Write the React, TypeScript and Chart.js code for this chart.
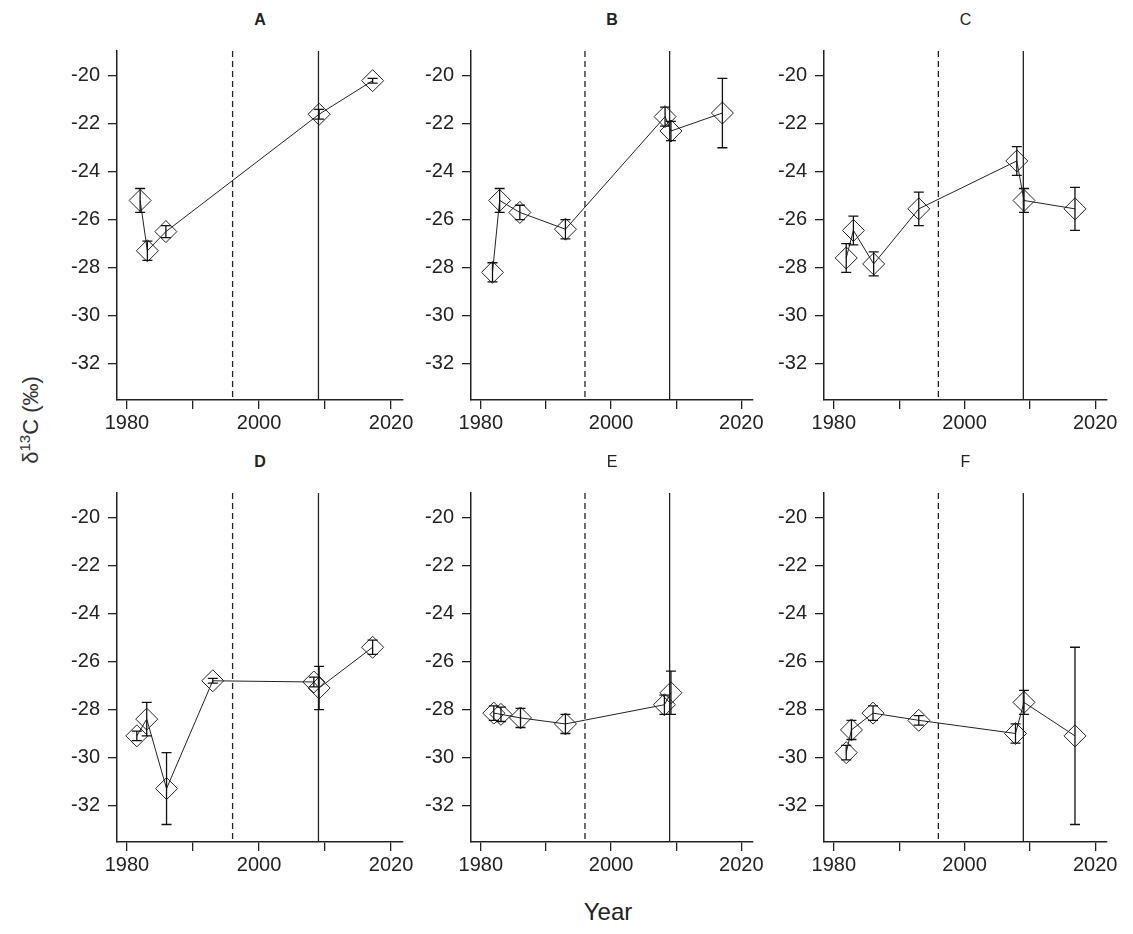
import { useEffect, useRef } from "react"
import { Chart, registerables } from "chart.js"

Chart.register(...registerables)

// panel data: year, mean d13C, error
const yearsA = [1982, 1983.1, 1985.9, 2009.1, 2017.2]
const valuesA = [-25.2, -27.3, -26.5, -21.6, -20.2]
const errorsA = [0.5, 0.4, 0.25, 0.2, 0.1]

const yearsB = [1981.8, 1982.9, 1986, 1993, 2008.3, 2009.2, 2017.1]
const valuesB = [-28.2, -25.2, -25.7, -26.4, -21.7, -22.3, -21.55]
const errorsB = [0.4, 0.5, 0.3, 0.4, 0.4, 0.4, 1.45]

const yearsC = [1981.9, 1983, 1986.1, 1993, 2008, 2009.1, 2016.9]
const valuesC = [-27.6, -26.45, -27.85, -25.55, -23.55, -25.2, -25.55]
const errorsC = [0.6, 0.6, 0.5, 0.7, 0.6, 0.5, 0.9]

const yearsD = [1981.5, 1983, 1986, 1993, 2008.3, 2009.1, 2017.2]
const valuesD = [-29.1, -28.4, -31.3, -26.8, -26.85, -27.1, -25.4]
const errorsD = [0.2, 0.7, 1.5, 0.1, 0.2, 0.9, 0.3]

const yearsE = [1982, 1983.1, 1986.1, 1993, 2008.2, 2009.2]
const valuesE = [-28.15, -28.2, -28.35, -28.6, -27.8, -27.3]
const errorsE = [0.3, 0.3, 0.4, 0.4, 0.4, 0.9]

const yearsF = [1981.9, 1982.7, 1986, 1993, 2007.8, 2009.1, 2016.9]
const valuesF = [-29.8, -28.85, -28.15, -28.45, -29.0, -27.7, -29.1]
const errorsF = [0.3, 0.4, 0.3, 0.2, 0.4, 0.5, 3.7]

const xTicks = [1980, 1990, 2000, 2010, 2020]
const xLabels = [1980, 2000, 2020]
const yTicks = [-20, -22, -24, -26, -28, -30, -32]
const dashedYear = 1996
const solidYear = 2009

const Y_W = 70
const X_H = 50
const PAD = 10
const PAD_R = 25

const vlines = {
  id: "vlines",
  afterDatasetsDraw(chart: any) {
    const { ctx, chartArea, scales } = chart
    ctx.save()
    ctx.strokeStyle = "#222"
    ctx.lineWidth = 1.3
    ;[[dashedYear, [6, 4]], [solidYear, []]].forEach(([yr, dash]: any) => {
      const x = scales.x.getPixelForValue(yr)
      ctx.setLineDash(dash)
      ctx.beginPath()
      ctx.moveTo(x, chartArea.top)
      ctx.lineTo(x, chartArea.bottom)
      ctx.stroke()
    })
    ctx.restore()
  },
}

const errorBars = {
  id: "errorBars",
  afterDatasetsDraw(chart: any) {
    const { ctx, scales } = chart
    const ds = chart.data.datasets[0]
    const errs: number[] = ds.errors
    ctx.save()
    ctx.strokeStyle = "#111"
    ctx.lineWidth = 1.3
    ds.data.forEach((p: any, i: number) => {
      const x = scales.x.getPixelForValue(p.x)
      const y1 = scales.y.getPixelForValue(p.y + errs[i])
      const y2 = scales.y.getPixelForValue(p.y - errs[i])
      ctx.beginPath()
      ctx.moveTo(x, y1)
      ctx.lineTo(x, y2)
      ctx.moveTo(x - 5, y1)
      ctx.lineTo(x + 5, y1)
      ctx.moveTo(x - 5, y2)
      ctx.lineTo(x + 5, y2)
      ctx.stroke()
    })
    ctx.restore()
  },
}

interface PanelProps {
  title: string
  bold: boolean
  years: number[]
  values: number[]
  errors: number[]
  axisX: number
  right: number
  top: number
  bottom: number
}

function Panel({ title, bold, years, values, errors, axisX, right, top, bottom }: PanelProps) {
  const ref = useRef<HTMLCanvasElement | null>(null)
  const width = Y_W + (right - axisX) + PAD_R
  const height = PAD + (bottom - top) + X_H

  useEffect(() => {
    if (!ref.current) return
    const font = { family: "'Liberation Sans', Arial, sans-serif", size: 20 }
    const chart = new Chart(ref.current, {
      type: "line",
      data: {
        datasets: [
          {
            data: years.map((x, i) => ({ x, y: values[i] })),
            errors,
            borderColor: "#222",
            borderWidth: 1,
            pointStyle: "rectRot",
            pointRadius: 11,
            pointBorderWidth: 1,
            pointBorderColor: "#222",
            pointBackgroundColor: "rgba(0,0,0,0)",
          } as any,
        ],
      },
      options: {
        animation: false,
        responsive: false,
        layout: { padding: { top: PAD, right: PAD_R, left: 0, bottom: 0 } },
        plugins: { legend: { display: false }, tooltip: { enabled: false } },
        scales: {
          x: {
            type: "linear",
            min: 1978.5,
            max: 2021.8,
            afterBuildTicks: (s: any) => {
              s.ticks = xTicks.map((v) => ({ value: v }))
            },
            afterFit: (s: any) => {
              s.height = X_H
              s.paddingLeft = 0
              s.paddingRight = 0
            },
            ticks: {
              autoSkip: false,
              maxRotation: 0,
              color: "#222",
              font,
              padding: 2,
              callback: (v: any) => (xLabels.includes(v) ? String(v) : ""),
            },
            grid: { drawOnChartArea: false, tickLength: 9, color: "#222", lineWidth: 1.3 },
            border: { color: "#222", width: 1.5 },
          },
          y: {
            type: "linear",
            min: -33.53,
            max: -18.96,
            afterBuildTicks: (s: any) => {
              s.ticks = yTicks.map((v) => ({ value: v }))
            },
            afterFit: (s: any) => {
              s.width = Y_W
              s.paddingTop = 0
              s.paddingBottom = 0
            },
            ticks: { color: "#222", font, padding: 8 },
            grid: { drawOnChartArea: false, tickLength: 9, color: "#222", lineWidth: 1.3 },
            border: { color: "#222", width: 1.5 },
          },
        },
      },
      plugins: [vlines, errorBars],
    })
    return () => chart.destroy()
  }, [years, values, errors])

  return (
    <>
      <div
        style={{
          position: "absolute",
          left: (axisX + right) / 2 - 30,
          width: 60,
          top: top - 38,
          textAlign: "center",
          fontSize: 16,
          fontWeight: bold ? "bold" : "normal",
          color: "#222",
        }}
      >
        {title}
      </div>
      <canvas
        ref={ref}
        width={width}
        height={height}
        style={{ position: "absolute", left: axisX - Y_W, top: top - PAD, width, height }}
      />
    </>
  )
}

export default function App() {
  const row1 = { top: 49, bottom: 400 }
  const row2 = { top: 491, bottom: 842 }
  const cols = [
    { axisX: 117, right: 403 },
    { axisX: 471, right: 753 },
    { axisX: 824, right: 1107 },
  ]
  return (
    <div
      style={{
        position: "fixed",
        left: 0,
        top: 0,
        width: 1133,
        height: 934,
        background: "#fff",
        fontFamily: "'Liberation Sans', Arial, sans-serif",
      }}
    >
      <Panel title="A" bold years={yearsA} values={valuesA} errors={errorsA} {...cols[0]} {...row1} />
      <Panel title="B" bold years={yearsB} values={valuesB} errors={errorsB} {...cols[1]} {...row1} />
      <Panel title="C" bold={false} years={yearsC} values={valuesC} errors={errorsC} {...cols[2]} {...row1} />
      <Panel title="D" bold years={yearsD} values={valuesD} errors={errorsD} {...cols[0]} {...row2} />
      <Panel title="E" bold={false} years={yearsE} values={valuesE} errors={errorsE} {...cols[1]} {...row2} />
      <Panel title="F" bold={false} years={yearsF} values={valuesF} errors={errorsF} {...cols[2]} {...row2} />
      <div
        style={{
          position: "absolute",
          left: 30,
          top: 420,
          transform: "translate(-50%, -50%) rotate(-90deg)",
          whiteSpace: "nowrap",
          fontSize: 22,
          color: "#333",
        }}
      >
        δ<sup style={{ fontSize: 15 }}>13</sup>C (‰)
      </div>
      <div
        style={{
          position: "absolute",
          left: 608,
          top: 912,
          transform: "translate(-50%, -50%)",
          fontSize: 24,
          color: "#222",
        }}
      >
        Year
      </div>
    </div>
  )
}
